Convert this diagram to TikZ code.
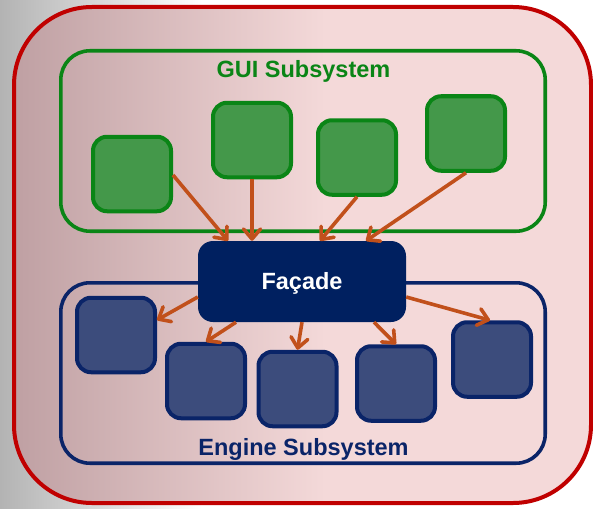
\documentclass[tikz,border=0pt]{standalone}
\usepackage{fontspec}
\setmainfont{Liberation Sans}
\usetikzlibrary{arrows.meta,calc}

\definecolor{bgL}{HTML}{B3B3B3}
\definecolor{outerred}{HTML}{C00000}
\definecolor{pinkL}{HTML}{BFA0A3}
\definecolor{pinkR}{HTML}{F4D9D9}
\definecolor{guiedge}{HTML}{0A8516}
\definecolor{guifill}{HTML}{44984A}
\definecolor{navyedge}{HTML}{0A2468}
\definecolor{engfill}{HTML}{3C4C7C}
\definecolor{facadefill}{HTML}{002060}
\definecolor{linkc}{HTML}{C1501B}

% grey backdrop fading to white towards the right
\pgfdeclarehorizontalshading{bgfade}{100bp}{color(0bp)=(bgL); color(25bp)=(bgL); color(42bp)=(white); color(100bp)=(white)}
% pink fill of the outer panel, darker on the left
\pgfdeclarehorizontalshading{pinkfade}{100bp}{color(0bp)=(pinkL); color(25bp)=(pinkL); color(52bp)=(pinkR); color(100bp)=(pinkR)}

\begin{document}
\begin{tikzpicture}[x=1pt,y=-1pt,
  box/.style={rectangle, rounded corners=14pt, line width=4pt,
    minimum width=78pt, minimum height=74.5pt, inner sep=0pt},
  guibox/.style={box, draw=guiedge, fill=guifill},
  engbox/.style={box, draw=navyedge, fill=engfill},
  frame/.style={rectangle, rounded corners=29pt, line width=3.6pt,
    minimum width=484.4pt, minimum height=180.4pt, inner sep=0pt},
  title/.style={font=\bfseries\fontsize{23.5}{28}\selectfont, anchor=base, inner sep=0pt},
  link/.style={draw=linkc, line width=3.6pt,
    -{Straight Barb[length=10pt,width=17pt,round]}}]

% backdrop
\fill[white] (0,0) rectangle (593,508);
\shade[shading=bgfade] (0,0) rectangle (593,508);
\useasboundingbox (0,0) rectangle (593,508);

% outer panel
\path[shade, shading=pinkfade, draw=outerred, line width=4pt, rounded corners=78pt]
  (14,7) rectangle (591,503);

% subsystem frames
\node[frame, draw=guiedge] (guiframe) at (303,141) {};
\node[frame, draw=navyedge] (engframe) at (303,373) {};

\node[title, text=guiedge] (guititle) at (303.5,77.7) {GUI Subsystem};
\node[title, text=navyedge] (engtitle) at (303.5,455) {Engine Subsystem};

% GUI components
\node[guibox] (g1) at (132,174) {};
\node[guibox] (g2) at (252,140) {};
\node[guibox] (g3) at (357,157.5) {};
\node[guibox] (g4) at (466,133.5) {};

% engine components
\node[engbox] (e1) at (116,335) {};
\node[engbox] (e2) at (206,381) {};
\node[engbox] (e3) at (297.5,389) {};
\node[engbox] (e4) at (396,383.5) {};
\node[engbox] (e5) at (492,359.5) {};

% facade
\node[fill=facadefill, rounded corners=15pt, minimum width=208pt, minimum height=81pt,
  inner sep=0pt, text=white, font=\bfseries\fontsize{23.5}{28}\selectfont,
  text height=16.8pt, text depth=0pt] (facade) at (302,281.5) {Façade};

% GUI -> facade
\draw[link] ($(g1.east)+(0,1)$) -- ($(facade.north)+(-74,0)$);
\draw[link] (g2.south) -- ($(facade.north)+(-50,0)$);
\draw[link] (g3.south) -- ($(facade.north)+(18,0)$);
\draw[link] (g4.south) -- ($(facade.north)+(64,0)$);

% facade -> engine
\draw[link] ($(facade.west)+(0,15.5)$) -- ($(e1.east)+(0,-15)$);
\draw[link] ($(facade.south)+(-66,0)$) -- (e2.north);
\draw[link] (facade.south) -- (e3.north);
\draw[link] ($(facade.south)+(72,0)$) -- (e4.north);
\draw[link] ($(facade.east)+(0,15.5)$) -- ($(e5.north)+(-2,0)$);
\end{tikzpicture}
\end{document}
